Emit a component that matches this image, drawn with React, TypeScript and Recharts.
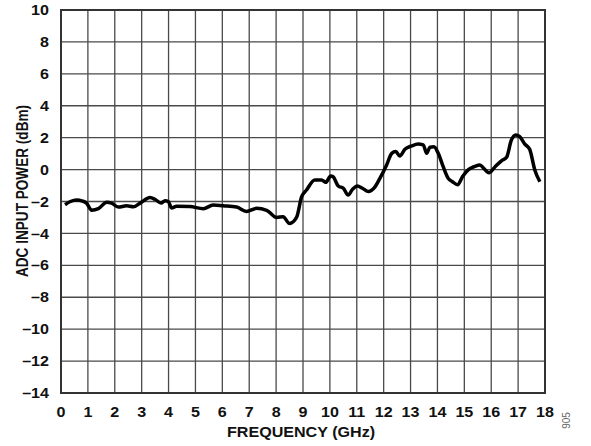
import { CartesianGrid, Line, LineChart, ReferenceArea, XAxis, YAxis } from 'recharts'

const freqGHz = [
  0.15, 0.35, 0.58, 0.8, 0.95, 1.14, 1.39, 1.7, 1.88, 2.13, 2.44, 2.69, 2.94, 3.31, 3.49, 3.72,
  3.87, 3.99, 4.11, 4.3, 4.8, 5.29, 5.66, 6.03, 6.53, 6.9, 7.27, 7.65, 8.02, 8.26, 8.5, 8.76,
  8.95, 9.13, 9.44, 9.69, 9.85, 10.03, 10.12, 10.31, 10.5, 10.68, 10.84, 11.02, 11.21, 11.43,
  11.67, 11.86, 12.11, 12.3, 12.45, 12.6, 12.79, 13.04, 13.28, 13.47, 13.6, 13.72, 13.87, 14.03,
  14.21, 14.4, 14.56, 14.75, 14.93, 15.14, 15.39, 15.58, 15.72, 15.92, 16.13, 16.38, 16.57,
  16.75, 16.91, 17.06, 17.25, 17.43, 17.62, 17.81,
]
const powerDbm = [
  -2.2, -2.0, -1.9, -1.97, -2.1, -2.55, -2.45, -2.05, -2.1, -2.35, -2.27, -2.33, -2.1, -1.75,
  -1.86, -2.1, -1.95, -2.0, -2.4, -2.3, -2.32, -2.45, -2.22, -2.27, -2.35, -2.62, -2.43, -2.55,
  -3.0, -2.95, -3.38, -3.0, -1.7, -1.28, -0.65, -0.65, -0.8, -0.4, -0.45, -1.03, -1.17, -1.6,
  -1.24, -1.03, -1.17, -1.38, -1.1, -0.55, 0.29, 1.02, 1.13, 0.85, 1.27, 1.48, 1.6, 1.55, 1.02,
  1.4, 1.43, 1.02, 0.2, -0.55, -0.76, -0.95, -0.45, -0.02, 0.2, 0.29, 0.08, -0.2, 0.15, 0.55,
  0.77, 1.85, 2.17, 2.07, 1.6, 1.27, -0.02, -0.76,
]
const xTicks = [0, 1, 2, 3, 4, 5, 6, 7, 8, 9, 10, 11, 12, 13, 14, 15, 16, 17, 18]
const yTicks = [-14, -12, -10, -8, -6, -4, -2, 0, 2, 4, 6, 8, 10]

const font = 'Arial, "Liberation Sans", Helvetica, sans-serif'
const stretch = 1.15

const fmtY = (v: number) => (v < 0 ? '\u2013' + Math.abs(v) : String(v))

// the source figure is a bit wider than tall, so text is stretched sideways
const XTick = ({ x, y, payload }: any) => (
  <text
    x={0}
    y={0}
    dy='0.71em'
    transform={`translate(${x},${y}) scale(${stretch},1)`}
    textAnchor='middle'
    fontFamily={font}
    fontWeight='bold'
    fontSize={14}
    fill='#111'
  >
    {payload.value}
  </text>
)

const YTick = ({ x, y, payload }: any) => (
  <text
    x={0}
    y={0}
    transform={`translate(${x},${y}) scale(${stretch},1)`}
    textAnchor='end'
    dominantBaseline='central'
    fontFamily={font}
    fontWeight='bold'
    fontSize={14}
    fill='#111'
  >
    {fmtY(payload.value)}
  </text>
)

const XLabel = () => (
  <text
    x={0}
    y={0}
    transform={`translate(301,432) scale(${stretch},1)`}
    textAnchor='middle'
    dominantBaseline='central'
    fontFamily={font}
    fontWeight='bold'
    fontSize={14}
    fill='#111'
  >
    FREQUENCY (GHz)
  </text>
)

const YLabel = () => (
  <text
    x={0}
    y={0}
    transform={`translate(23,191) scale(${stretch},1) rotate(-90)`}
    textAnchor='middle'
    dominantBaseline='central'
    fontFamily={font}
    fontWeight='bold'
    fontSize={13.6}
    fill='#111'
  >
    ADC INPUT POWER (dBm)
  </text>
)

const App = () => {
  const data = freqGHz.map((f, i) => ({ f, p: powerDbm[i] }))

  return (
    <div style={{ position: 'absolute', left: 0, top: 0, width: 591, height: 446, background: '#fff' }}>
      <LineChart width={591} height={446} data={data} margin={{ top: 10, right: 46, bottom: 0, left: 0 }}>
        <CartesianGrid stroke='#4a4a4a' strokeWidth={1.3} />
        <XAxis
          dataKey='f'
          type='number'
          domain={[0, 18]}
          ticks={xTicks}
          interval={0}
          height={53}
          tickLine={false}
          axisLine={false}
          tickMargin={8}
          tick={<XTick />}
          label={<XLabel />}
        />
        <YAxis
          type='number'
          domain={[-14, 10]}
          ticks={yTicks}
          interval={0}
          width={61}
          tickLine={false}
          axisLine={false}
          tickMargin={6}
          tick={<YTick />}
          label={<YLabel />}
        />
        <ReferenceArea x1={0} x2={18} y1={-14} y2={10} fill='none' stroke='#333' strokeWidth={2} />
        <Line
          type='monotone'
          dataKey='p'
          stroke='#000'
          strokeWidth={3.5}
          dot={false}
          isAnimationActive={false}
        />
      </LineChart>
      <div
        style={{
          position: 'absolute',
          left: 558,
          top: 415,
          fontFamily: font,
          fontSize: 10,
          color: '#666',
          transform: 'rotate(-90deg)',
        }}
      >
        905
      </div>
    </div>
  )
}

export default App
